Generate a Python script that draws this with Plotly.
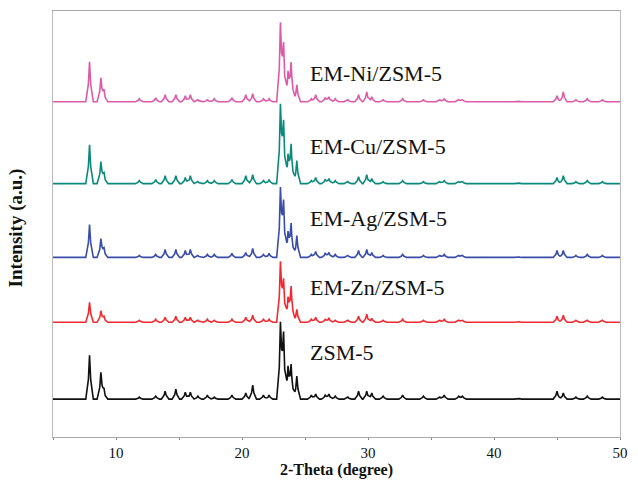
import numpy as np
import plotly.graph_objects as go

# Peak positions (2-theta, degree)
peak_pos = [7.9, 8.8, 9.05, 11.85, 13.15, 13.9, 14.75, 15.5, 15.9, 16.5, 17.25, 17.8,
            19.2, 20.3, 20.85, 21.7, 22.15, 23.05, 23.3, 23.65, 23.9, 24.35, 25.5,
            25.85, 26.6, 26.9, 27.4, 28.4, 29.25, 29.9, 30.3, 31.2, 32.75, 34.4,
            35.7, 36.05, 37.2, 37.5, 41.9, 45.0, 45.5, 46.5, 47.4, 48.6]

# Peak intensities (a.u.)
zsm5 = [44, 26, 8, 2, 3, 8, 10, 7, 7, 3, 4, 2, 4, 6, 14, 4, 4, 71, 60, 30, 32, 23, 4,
        5, 4, 5, 3, 2, 8, 8, 6, 3, 4, 3, 2, 4, 3, 3, 1, 8, 6, 2, 3, 2]
em_zn = [20, 11, 5, 2, 3, 5, 6, 5, 5, 2, 3, 2, 3, 5, 7, 3, 3, 57, 38, 22, 34, 13, 3,
         5, 3, 4, 2, 2, 6, 8, 4, 2, 3, 2, 2, 3, 2, 2, 1, 6, 7, 2, 2, 2]
em_ag = [33, 18, 8, 2, 3, 8, 8, 7, 8, 2, 3, 3, 4, 5, 9, 3, 4, 65, 51, 23, 32, 22, 3,
         6, 4, 5, 3, 2, 7, 8, 5, 2, 3, 2, 2, 3, 2, 2, 1, 7, 7, 2, 3, 2]
em_cu = [39, 21, 9, 3, 4, 8, 8, 6, 8, 2, 3, 3, 4, 8, 9, 3, 4, 74, 56, 26, 37, 23, 3,
         6, 4, 5, 3, 2, 7, 9, 5, 2, 3, 2, 2, 3, 2, 2, 1, 6, 8, 2, 3, 2]
em_ni = [40, 23, 10, 3, 4, 7, 7, 6, 7, 2, 2, 3, 4, 7, 8, 3, 3, 74, 52, 27, 37, 17, 3,
         7, 4, 5, 3, 2, 7, 10, 5, 2, 3, 2, 2, 3, 2, 2, 1, 6, 10, 2, 3, 2]

series_names = ["ZSM-5", "EM-Zn/ZSM-5", "EM-Ag/ZSM-5", "EM-Cu/ZSM-5", "EM-Ni/ZSM-5"]
series_vals = [zsm5, em_zn, em_ag, em_cu, em_ni]
offsets = [38, 115, 180, 254, 336]
colors = ["#111111", "#F02A30", "#3A4DA8", "#0B8A7C", "#DC5AA8"]
label_y = [85, 150, 219, 291, 364]

x_ticks = [5, 10, 15, 20, 25, 30, 35, 40, 45, 50]
x_ticktext = ["", "10", "", "20", "", "30", "", "40", "", "50"]

# line shape of a single reflection (rendering only)
shape_dx = np.array([-0.3, -0.09, 0.0, 0.09, 0.3])
shape_fr = np.array([0.0, 0.45, 1.0, 0.45, 0.0])

pos = np.array(peak_pos)
xs = np.unique(np.concatenate([[5.0, 50.0]] + [pos + d for d in shape_dx]))
xs = xs[(xs >= 5) & (xs <= 50)]

fig = go.Figure()
for name, vals, off, col, ly in zip(series_names, series_vals, offsets, colors, label_y):
    ys = np.full_like(xs, float(off))
    for p, h in zip(peak_pos, vals):
        ys += h * np.interp(xs - p, shape_dx, shape_fr, left=0, right=0)
    fig.add_trace(go.Scatter(x=xs, y=ys, mode="lines", line=dict(color=col, width=1.6),
                             showlegend=False, hoverinfo="skip"))
    fig.add_annotation(x=25.25, y=ly, text=name, showarrow=False, xanchor="left",
                       yanchor="middle", font=dict(family="Liberation Serif", size=22, color="#111"))

fig.add_annotation(xref="paper", yref="paper", x=0.5, y=-0.1007, text="<b>2-Theta (degree)</b>",
                   showarrow=False, xanchor="center", yanchor="bottom", borderpad=0,
                   font=dict(family="Liberation Serif", size=16, color="#111"))
fig.add_annotation(xref="paper", yref="paper", x=-0.065, y=0.49, text="<b>Intensity (a.u.)</b>",
                   showarrow=False, textangle=-90, xanchor="center", yanchor="middle",
                   font=dict(family="Liberation Serif", size=19, color="#111"))

fig.update_layout(
    width=638, height=481,
    margin=dict(l=53, r=11, t=10, b=44),
    paper_bgcolor="white", plot_bgcolor="white",
    xaxis=dict(range=[5, 50], tickvals=x_ticks, ticktext=x_ticktext, ticks="outside",
               ticklen=2, tickcolor="#888", showline=True, linecolor="#aaa", linewidth=1,
               mirror=True, showgrid=False, zeroline=False,
               tickfont=dict(family="Liberation Serif", size=15, color="#111")),
    yaxis=dict(range=[0, 427], showticklabels=False, ticks="", showline=True,
               linecolor="#bbb", linewidth=1, mirror=True, showgrid=False, zeroline=False),
)

fig.write_html("out.html", config={"displayModeBar": False},
               post_script="document.body.style.margin='0px';"
                           "document.body.style.overflow='hidden';"
                           "document.documentElement.style.overflow='hidden';")
